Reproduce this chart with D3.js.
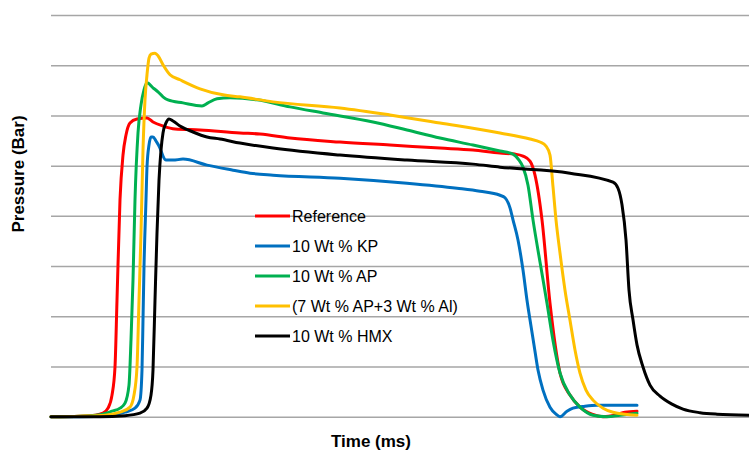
<!DOCTYPE html>
<html lang="en">
  <head>
  <title>Pressure vs Time</title>
    <style>
      body { margin: 0; background: #fff; }
      .grid line { stroke: #a6a6a6; stroke-width: 1.5px; }
      .grid .domain { display: none; }
      .series { fill: none; stroke-width: 3px; stroke-linejoin: round; stroke-linecap: round; }
      .legend text { font-family: "Liberation Sans", Arial, sans-serif; font-size: 16px; fill: #000; }
      .axis-title { font-family: "Liberation Sans", Arial, sans-serif; font-size: 17px; font-weight: bold; fill: #000; }
    </style>
  </head>
  <body>

<div id="chart"></div>

    <script src="https://d3js.org/d3.v7.min.js"></script>
    <script>
    // series names and colours, same order as the legend
    var names = ["Reference", "10 Wt % KP", "10 Wt % AP", "(7 Wt % AP+3 Wt % Al)", "10 Wt % HMX"];
    var colors = ["#ff0000", "#0070c0", "#00b050", "#ffc000", "#000000"];

    // time (ms) and pressure (bar)
    var refT = [0,2.9,4.4,5.2,5.7,6.1,6.4,6.6,6.9,7.2,7.5,7.9,8.6,9.6,10.2,11.2,12.4,14.9,18.9,20.9,23.9,28.9,33.9,38.9,42.2,44.9,46.4,47.2,47.9,48.4,49.1,49.9,50.9,51.9,52.9,54.1,55.2,56.4,57.4,58.6];
    var refP = [0,0.01,0.03,0.07,0.17,0.43,0.99,2.32,4.32,5.21,5.61,5.85,5.93,5.95,5.87,5.79,5.73,5.71,5.65,5.63,5.55,5.47,5.41,5.35,5.31,5.25,5.23,5.19,5.09,4.81,3.92,2.26,0.87,0.43,0.19,0.05,0,0.03,0.09,0.11];

    var kpT = [0,2.9,5.9,7.4,8.4,8.9,9.1,9.2,9.3,9.5,9.6,9.8,10.0,10.2,10.5,10.9,11.2,11.5,12.2,13.2,15.6,18.2,19.9,22.2,28.9,35.6,40.6,42.9,44.9,45.4,45.9,46.2,46.7,47.2,47.6,47.9,48.3,48.7,49.2,49.9,50.5,50.9,51.6,52.2,53.4,54.6,58.6];
    var kpP = [0,0,0.03,0.09,0.17,0.33,0.93,1.93,2.98,4.32,4.97,5.41,5.57,5.57,5.49,5.35,5.19,5.11,5.11,5.13,5.01,4.91,4.85,4.81,4.75,4.65,4.55,4.49,4.41,4.36,4.16,3.92,3.52,2.92,2.32,1.93,1.43,0.93,0.53,0.19,0.05,0,0.11,0.17,0.21,0.23,0.23];

    var apT = [0,2.9,4.9,6.1,6.9,7.4,7.8,8.0,8.2,8.4,8.7,9.0,9.3,9.6,10.2,10.7,11.2,11.7,13.2,15.1,15.7,16.6,17.9,20.6,23.9,27.2,32.2,35.6,38.9,42.2,44.9,46.2,46.8,47.2,47.7,48.2,48.9,49.6,50.2,50.9,51.9,52.9,54.2,55.6,56.9,58.6];
    var apP = [0,0.01,0.04,0.11,0.17,0.27,0.63,1.53,2.72,4.32,5.65,6.21,6.51,6.65,6.55,6.47,6.37,6.31,6.25,6.19,6.25,6.33,6.35,6.31,6.17,6.05,5.87,5.71,5.55,5.41,5.29,5.23,5.11,4.97,4.61,3.92,3.08,2.26,1.52,0.87,0.43,0.19,0.03,0,0.03,0.07];

    var alT = [0,2.9,5.4,6.9,7.9,8.3,8.6,8.8,9.0,9.2,9.4,9.6,9.8,10.0,10.4,10.7,11.2,11.9,12.9,14.9,17.2,18.9,22.2,28.9,33.9,38.9,44.9,47.9,48.9,49.5,49.9,50.2,50.5,50.9,51.4,51.9,52.4,52.9,53.5,54.2,55.2,56.2,58.6];
    var alP = [0,0.01,0.03,0.09,0.19,0.43,0.99,2.32,3.66,5.31,6.31,6.81,7.14,7.22,7.24,7.19,7.01,6.81,6.71,6.53,6.41,6.37,6.27,6.15,6.01,5.85,5.65,5.53,5.47,5.39,5.21,4.58,3.92,3.26,2.52,1.92,1.33,0.87,0.53,0.33,0.17,0.09,0.03];

    var hmxT = [0,4.9,7.4,8.9,9.6,10.0,10.2,10.4,10.6,10.8,11.0,11.2,11.5,11.8,12.2,12.9,14.2,15.6,16.9,18.9,22.2,28.9,35.6,42.2,44.9,51.9,56.2,56.7,57.1,57.5,57.8,58.2,58.6,59.2,59.9,60.9,62.1,63.2,64.9,66.6,69.8];
    var hmxP = [0,0,0.02,0.07,0.17,0.43,0.93,2.32,3.66,4.71,5.31,5.65,5.85,5.93,5.89,5.79,5.67,5.57,5.53,5.45,5.35,5.21,5.11,5.03,4.97,4.85,4.67,4.55,4.22,3.52,2.52,1.93,1.43,0.99,0.63,0.41,0.25,0.15,0.08,0.05,0.03];

    var seriesT = [refT, kpT, apT, alT, hmxT];
    var seriesP = [refP, kpP, apP, alP, hmxP];
    var gridValues = [0, 1, 2, 3, 4, 5, 6, 7, 8];

    var W = 749, H = 452;
    var margin = {left: 51, right: 0, top: 15, bottom: 35.3};
    var width = W - margin.left - margin.right, height = H - margin.top - margin.bottom;

    var svg = d3.select("#chart").append("svg")
        .attr("width", W)
        .attr("height", H);

    var g = svg.append("g").attr("transform", "translate(" + margin.left + "," + margin.top + ")");

    var x = d3.scaleLinear().domain([0, 69.8]).range([0, width]);
    var y = d3.scaleLinear().domain([0, 8]).range([height, 0]);

    g.append("g")
        .attr("class", "grid")
        .call(d3.axisLeft(y).tickValues(gridValues).tickSize(-width).tickFormat(""));

    var line = d3.line()
        .x(function(d){ return x(d[0]); })
        .y(function(d){ return y(d[1]); })
        .curve(d3.curveMonotoneX);

    var data = names.map(function(n, i){
      return { name: n, color: colors[i], pts: d3.zip(seriesT[i], seriesP[i]) };
    });

    g.selectAll("path.series")
      .data(data)
      .enter().append("path")
        .attr("class", "series")
        .attr("stroke", function(d){ return d.color; })
        .attr("d", function(d){ return line(d.pts); });

    // legend
    var legend = svg.append("g").attr("class", "legend").attr("transform", "translate(255,216)");
    var item = legend.selectAll("g")
      .data(data)
      .enter().append("g")
        .attr("transform", function(d, i){ return "translate(0," + (i * 30) + ")"; });
    item.append("line")
        .attr("x1", 0).attr("x2", 35)
        .attr("stroke", function(d){ return d.color; })
        .attr("stroke-width", 3);
    item.append("text")
        .attr("x", 37)
        .attr("dy", "0.36em")
        .text(function(d){ return d.name; });

    // axis titles
    svg.append("text")
        .attr("class", "axis-title")
        .attr("text-anchor", "middle")
        .attr("transform", "translate(24,174) rotate(-90)")
        .text("Pressure (Bar)");

    svg.append("text")
        .attr("class", "axis-title")
        .attr("text-anchor", "middle")
        .attr("x", 371)
        .attr("y", 447)
        .text("Time (ms)");
    </script>
  </body>
</html>
